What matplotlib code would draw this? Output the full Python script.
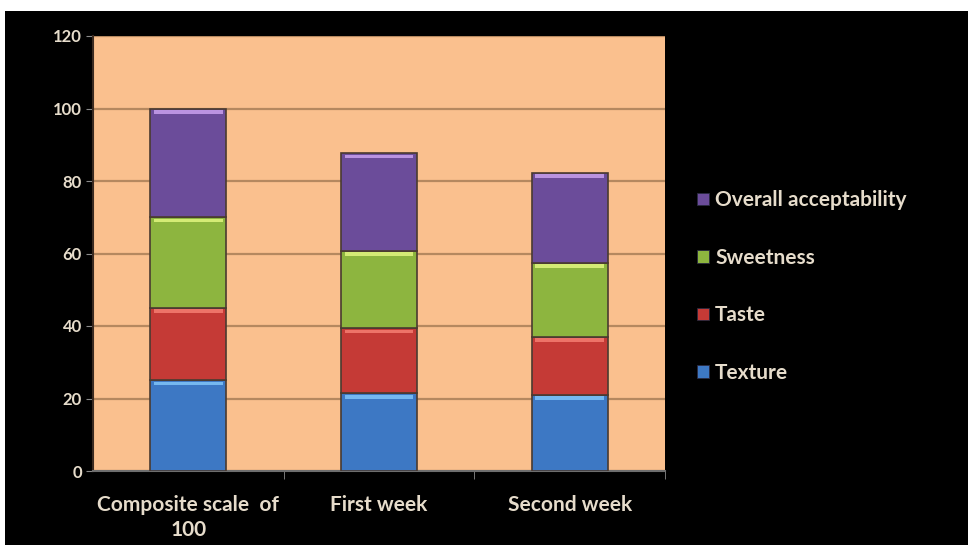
import matplotlib.pyplot as plt
from matplotlib.patches import Rectangle, Patch
import numpy as np

plt.rcParams['font.family'] = ['Lato', 'DejaVu Sans']

categories = ["Composite scale  of\n100", "First week", "Second week"]
series = ["Texture", "Taste", "Sweetness", "Overall acceptability"]
texture = [25, 21.4, 21]
taste = [20, 18, 16]
sweetness = [25, 21.3, 20.4]
overall = [30, 27, 24.8]

colors = ["#3D78C4", "#C53A36", "#8DB53F", "#6B4C9A"]
highlights = ["#7CC0F5", "#F27A6E", "#DDF27C", "#C49BEA"]
txt = "#E6DCCB"

fig = plt.figure(figsize=(9.68, 5.45), dpi=100, facecolor="white")
fig.patches.append(Rectangle((5 / 968, 0), 1, 1 - 11 / 545, transform=fig.transFigure,
                             facecolor="black", edgecolor="none", zorder=-10))
ax = fig.add_axes([93 / 968, 1 - 471 / 545, 572 / 968, 435 / 545])
ax.set_facecolor("#FAC08E")

x = np.arange(len(categories))
w = 0.40
bottom = np.zeros(len(categories))
for vals, c, hc, name in zip([texture, taste, sweetness, overall], colors, highlights, series):
    vals = np.array(vals)
    ax.bar(x, vals, w, bottom=bottom, color=c, edgecolor="#4A3A30", linewidth=1.2,
           zorder=3, label=name)
    # light bevel at the top of each segment
    ax.bar(x, 1.0, w * 0.9, bottom=bottom + vals - 1.4, color=hc, edgecolor="none",
           zorder=4, alpha=0.9)
    bottom += vals

ax.set_xlim(-0.5, 2.5)
ax.set_ylim(0, 120)
ax.set_yticks(range(0, 121, 20))
ax.yaxis.grid(True, color="#B5885F", linewidth=1.6, zorder=0)
ax.set_axisbelow(True)

ax.set_xticks(x)
ax.set_xticklabels(categories, color=txt, fontsize=15, fontweight="bold", linespacing=1.35)
ax.set_xticks([0.5, 1.5, 2.5], minor=True)
ax.tick_params(axis="x", which="major", length=0, pad=17)
ax.tick_params(axis="x", which="minor", length=6, color="#8A8A8A", direction="out")
ax.tick_params(axis="y", length=5, color="#8A8A8A", labelcolor=txt, labelsize=12, pad=3)
for lab in ax.get_yticklabels():
    lab.set_fontweight("bold")

for s in ["top", "right"]:
    ax.spines[s].set_visible(False)
ax.spines["left"].set_color("#3A2A20")
ax.spines["left"].set_linewidth(1.5)
ax.spines["bottom"].set_color("#6E6E6E")
ax.spines["bottom"].set_linewidth(1.5)

handles = [Patch(facecolor=c, edgecolor="#2A2A40", linewidth=0.6) for c in colors][::-1]
fig.legend(handles, series[::-1], loc="upper left", bbox_to_anchor=(689 / 968, 1 - 182 / 545),
           frameon=False, prop={"size": 15, "weight": "bold"}, labelcolor=txt,
           handlelength=0.55, handleheight=0.55, handletextpad=0.3, labelspacing=1.8,
           borderaxespad=0)

fig.savefig("out.png", dpi=100, facecolor=fig.get_facecolor())
